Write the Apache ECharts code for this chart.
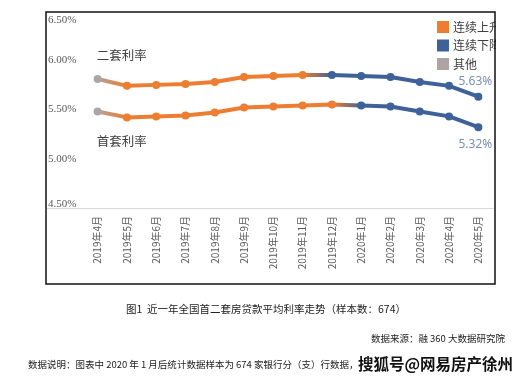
<!DOCTYPE html>
<html>
<head>
<meta charset="utf-8">
<script src="https://cdn.jsdelivr.net/npm/echarts@6/dist/echarts.min.js"></script>
<style>
html,body{margin:0;padding:0;background:#fff;}
#c{width:532px;height:385px;}
</style>
</head>
<body>
<div id="c"></div>
<script>
// ---- data ----
const categories = ['2019年4月','2019年5月','2019年6月','2019年7月','2019年8月','2019年9月','2019年10月','2019年11月','2019年12月','2020年1月','2020年2月','2020年3月','2020年4月','2020年5月'];
const secondRate = [5.81, 5.74, 5.75, 5.76, 5.78, 5.83, 5.84, 5.85, 5.85, 5.84, 5.83, 5.78, 5.74, 5.63];
const firstRate  = [5.48, 5.42, 5.43, 5.44, 5.47, 5.52, 5.53, 5.54, 5.55, 5.54, 5.53, 5.48, 5.43, 5.32];
// trend of each point: 0 = 其他, 1 = 连续上升, 2 = 连续下降
const secondTrend = [0,1,1,1,1,1,1,1,2,2,2,2,2,2];
const firstTrend  = [0,1,1,1,1,1,1,1,1,2,2,2,2,2];
const legendNames = ['连续上升','连续下降','其他'];
const yTicks = [4.5, 5.0, 5.5, 6.0, 6.5];

const ORANGE = '#ED7D31', BLUE = '#3D6198', GRAY = '#ADA5A5';
const trendColor = [GRAY, ORANGE, BLUE];

function gradientFor(trend){
  const n = trend.length - 1;
  const stops = [];
  for (let i = 0; i <= n; i++) stops.push({offset: i / n, color: trendColor[trend[i]]});
  return new echarts.graphic.LinearGradient(0, 0, 1, 0, stops);
}
function pointsFor(values, trend, startLabel, endLabel, startPos, endPos){
  return values.map((v, i) => {
    const d = {value: v, itemStyle: {color: trendColor[trend[i]]}};
    if (i === 0) {
      d.label = {show: true, formatter: startLabel, position: startPos, distance: 8,
        offset: [24, startPos === 'top' ? -5 : 12], color: '#404040', fontSize: 12.5,
        fontFamily: 'Noto Sans CJK SC'};
    }
    if (i === values.length - 1) {
      d.label = {show: true, formatter: endLabel, position: endPos, distance: endPos === 'top' ? 5 : 7,
        offset: [-3, 0], color: '#7890B2', fontSize: 12, fontFamily: 'Noto Sans'};
    }
    return d;
  });
}

const chart = echarts.init(document.getElementById('c'), null, {renderer: 'canvas'});
const option = {
  backgroundColor: '#fff',
  animation: false,
  grid: {left: 83, right: 39, top: 11, height: 197},
  legend: {
    data: legendNames, orient: 'vertical', left: 432, top: 16, itemGap: 6.5,
    itemWidth: 12, itemHeight: 12, icon: 'rect',
    textStyle: {fontSize: 12, color: '#404040', fontFamily: 'Noto Sans CJK SC', padding: [0,0,0,-1]}
  },
  xAxis: {
    type: 'category', data: categories, boundaryGap: true,
    axisLine: {lineStyle: {color: '#D9D9D9', width: 1}},
    axisTick: {show: false},
    axisLabel: {rotate: 90, margin: 8, fontSize: 10, color: '#595959', fontFamily: 'Noto Sans CJK SC', interval: 0}
  },
  yAxis: {
    type: 'value', min: yTicks[0], max: yTicks[yTicks.length-1], interval: 0.5,
    axisLine: {show: false}, axisTick: {show: false}, splitLine: {show: false},
    axisLabel: {
      align: 'left', margin: 35, fontSize: 11, color: '#595959', fontFamily: 'Liberation Serif',
      formatter: function(v){
        const s = v.toFixed(2) + '%';
        if (v === yTicks[yTicks.length-1]) return '{t|' + s + '}';
        if (v === yTicks[0]) return '{b|' + s + '}';
        return s;
      },
      rich: {
        t: {padding: [18,0,0,0], fontSize: 11, color: '#595959', fontFamily: 'Liberation Serif'},
        b: {padding: [0,0,8,0], fontSize: 11, color: '#595959', fontFamily: 'Liberation Serif'}
      }
    }
  },
  series: [
    {name: '二套利率', type: 'line', data: pointsFor(secondRate, secondTrend, '二套利率', '5.63%', 'top', 'top'),
      symbol: 'circle', symbolSize: 8, lineStyle: {width: 4, color: gradientFor(secondTrend)}, z: 3},
    {name: '首套利率', type: 'line', data: pointsFor(firstRate, firstTrend, '首套利率', '5.32%', 'bottom', 'bottom'),
      symbol: 'circle', symbolSize: 8, lineStyle: {width: 4, color: gradientFor(firstTrend)}, z: 3},
    {name: legendNames[0], type: 'line', data: [], itemStyle: {color: ORANGE}},
    {name: legendNames[1], type: 'line', data: [], itemStyle: {color: BLUE}},
    {name: legendNames[2], type: 'line', data: [], itemStyle: {color: GRAY}}
  ],
  graphic: [
    {type: 'rect', z: 100, shape: {x: 496, y: 0, width: 40, height: 290}, style: {fill: '#fff'}, silent: true},
    {type: 'line', z: 50, shape: {x1: 47, y1: 208.5, x2: 83, y2: 208.5}, style: {stroke: '#D9D9D9', lineWidth: 1}},
    {type: 'rect', z: 101, shape: {x: 46, y: 12, width: 449, height: 272}, style: {fill: 'none', stroke: '#111', lineWidth: 1.5}, silent: true},
    {type: 'text', z: 101, left: 'center', top: 304, style: {text: '图1  近一年全国首二套房贷款平均利率走势（样本数：674）', fontSize: 10.5, fill: '#222', fontFamily: 'Noto Sans CJK SC'}},
    {type: 'text', z: 101, right: 27, top: 334, style: {text: '数据来源：融 360 大数据研究院', fontSize: 9.5, fill: '#222', fontFamily: 'Noto Sans CJK SC'}},
    {type: 'text', z: 101, left: 28, top: 360, style: {text: '数据说明：图表中 2020 年 1 月后统计数据样本为 674 家银行分（支）行数据，', fontSize: 9.5, fill: '#222', fontFamily: 'Noto Sans CJK SC'}},
    {type: 'text', z: 102, left: 357, top: 355, style: {text: '搜狐号@网易房产徐州', fontSize: 15.5, fontWeight: 'bold', fill: '#111', stroke: '#fff', lineWidth: 2, fontFamily: 'Noto Sans CJK SC'}}
  ]
};
chart.setOption(option);
</script>
</body>
</html>
